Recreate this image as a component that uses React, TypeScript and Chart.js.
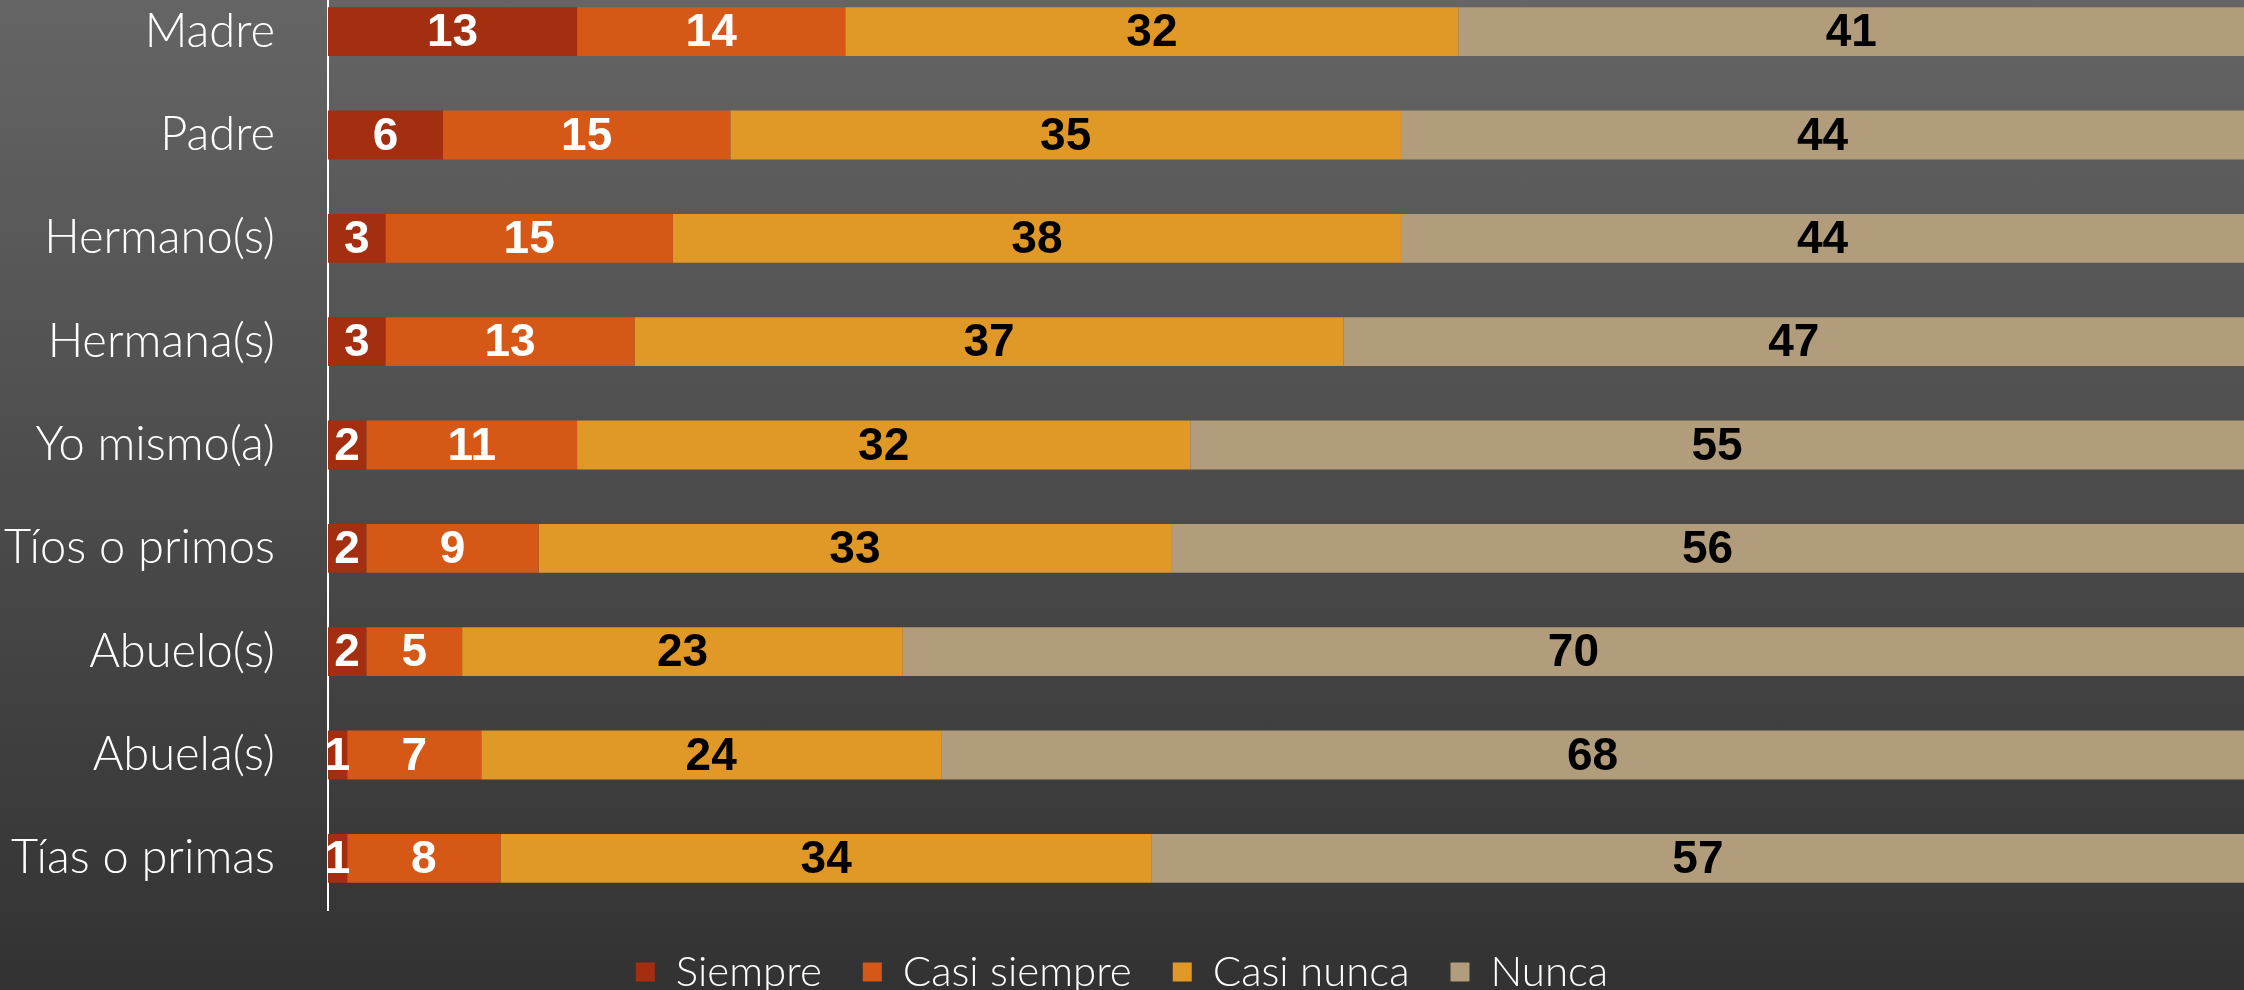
import React, { useEffect, useRef } from "react";
import { Chart, registerables } from "chart.js";
Chart.register(...registerables);

const categories = [
  "Madre",
  "Padre",
  "Hermano(s)",
  "Hermana(s)",
  "Yo mismo(a)",
  "Tíos o primos",
  "Abuelo(s)",
  "Abuela(s)",
  "Tías o primas",
];
const siempre = [13, 6, 3, 3, 2, 2, 2, 1, 1];
const casiSiempre = [14, 15, 15, 13, 11, 9, 5, 7, 8];
const casiNunca = [32, 35, 38, 37, 32, 33, 23, 24, 34];
const nunca = [41, 44, 44, 47, 55, 56, 70, 68, 57];
const seriesNames = ["Siempre", "Casi siempre", "Casi nunca", "Nunca"];
const seriesValues = [siempre, casiSiempre, casiNunca, nunca];
const seriesColors = ["#A32E10", "#D55817", "#E09826", "#B19C7C"];
const labelColors = ["#FFFFFF", "#FFFFFF", "#000000", "#000000"];

export default function App() {
  const ref = useRef<HTMLCanvasElement>(null);
  useEffect(() => {
    document.body.style.margin = "0";
    const valuePlugin = {
      id: "valueLabels",
      afterDatasetsDraw(chart: any) {
        const ctx = chart.ctx;
        ctx.save();
        ctx.font = "bold 46px 'Liberation Sans', Arial, sans-serif";
        ctx.textAlign = "center";
        ctx.textBaseline = "middle";
        chart.data.datasets.forEach((ds: any, i: number) => {
          const meta = chart.getDatasetMeta(i);
          ctx.fillStyle = labelColors[i];
          meta.data.forEach((el: any, j: number) => {
            const p = el.getProps(["x", "y", "base"], true);
            ctx.fillText(String(ds.data[j]), (p.x + p.base) / 2, p.y + 2);
          });
        });
        ctx.restore();
      },
    };
    const chart = new Chart(ref.current as HTMLCanvasElement, {
      type: "bar",
      data: {
        labels: categories,
        datasets: seriesNames.map((name, i) => ({
          label: name,
          data: seriesValues[i],
          backgroundColor: seriesColors[i],
          borderWidth: 0,
          categoryPercentage: 1,
          barPercentage: 0.473,
        })),
      },
      options: {
        indexAxis: "y",
        responsive: false,
        animation: false,
        layout: { padding: 0 },
        scales: {
          x: { stacked: true, min: 0, max: 100, display: false },
          y: {
            stacked: true,
            afterFit: (s: any) => {
              s.width = 328;
              s.paddingTop = 0;
              s.paddingBottom = 0;
            },
            grid: { display: false, drawTicks: false },
            border: { display: true, color: "#FFFFFF", width: 2 },
            ticks: {
              color: "#FFFFFF",
              padding: 53,
              font: { family: "Lato", weight: "300", size: 47 },
            },
          },
        },
        plugins: {
          legend: {
            position: "bottom",
            labels: {
              color: "#FFFFFF",
              boxWidth: 19,
              boxHeight: 19,
              padding: 41,
              font: { family: "Lato", weight: "300", size: 42 },
            },
          },
          tooltip: { enabled: false },
        },
      } as any,
      plugins: [valuePlugin],
    });
    return () => chart.destroy();
  }, []);
  return (
    <div
      style={{
        position: "fixed",
        inset: 0,
        overflow: "hidden",
        background: "linear-gradient(#656565, #323232)",
      }}
    >
      <canvas
        ref={ref}
        width={2244}
        height={1023}
        style={{ position: "absolute", left: 0, top: -20, width: 2244, height: 1023 }}
      />
    </div>
  );
}
